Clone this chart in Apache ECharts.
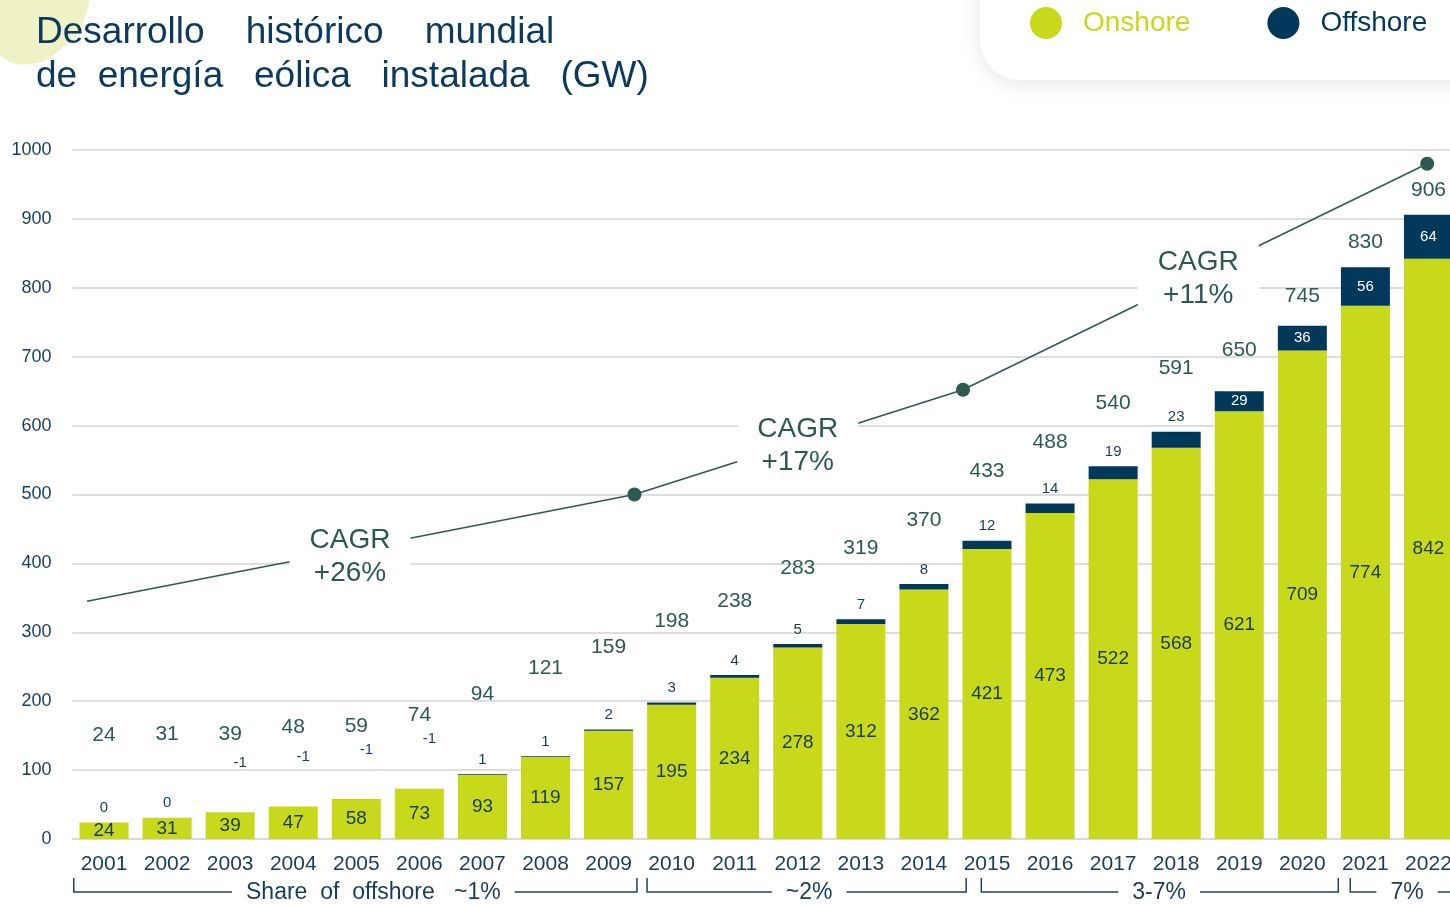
<!DOCTYPE html>
<html>
<head>
<meta charset="utf-8">
<script src="https://cdn.jsdelivr.net/npm/echarts@6/dist/echarts.min.js"></script>
<style>
  html, body { margin: 0; padding: 0; background: #fff; overflow: hidden; }
  /* el gráfico sigue un poco más allá del borde derecho, como en el original */
  #chart { width: 1460px; height: 905px; }
</style>
</head>
<body>
<div id="chart"></div>
<script>
// datos (GW)
const years = ['2001', '2002', '2003', '2004', '2005', '2006', '2007', '2008', '2009', '2010', '2011',
  '2012', '2013', '2014', '2015', '2016', '2017', '2018', '2019', '2020', '2021', '2022'];
const onshore = [24, 31, 39, 47, 58, 73, 93, 119, 157, 195, 234, 278, 312, 362, 421, 473, 522, 568, 621, 709, 774, 842];
const offshore = [0, 0, -1, -1, -1, -1, 1, 1, 2, 3, 4, 5, 7, 8, 12, 14, 19, 23, 29, 36, 56, 64];
const totals = [24, 31, 39, 48, 59, 74, 94, 121, 159, 198, 238, 283, 319, 370, 433, 488, 540, 591, 650, 745, 830, 906];

// líneas CAGR: puntos [índice de año, GW]
const cagrLine = [[-0.27, 345], [8.41, 500], [13.62, 652], [20.98, 980]];
const cagrText = ['CAGR\n+26%', 'CAGR\n+17%', 'CAGR\n+11%'];
const cagrTextAt = [[3.9, 409], [11.0, 570], [17.35, 813]];

// share of offshore
const shareText = ['Share  of  offshore   ~1%', '~2%', '3-7%', '7%'];
const shareFrom = [-0.48, 8.61, 13.91, 19.76];
const shareTo = [8.45, 13.67, 19.57, 21.55];
const shareTextAt = [4.27, 11.18, 16.73, 20.66];

// distancia de la etiqueta del total sobre la barra (px)
const totalLift = [76, 72, 67, 68, 61, 62, 69, 76, 71, 70, 63, 65, 60, 53, 58, 50, 53, 53, 30, 18, 14, 14];

const FONT = 'Liberation Sans, Arial, sans-serif';
const GREEN = '#c8d81a';
const NAVY = '#02385a';
const TEXT = '#173c5c';
const TEAL = '#2c5a53';

const chart = echarts.init(document.getElementById('chart'));

const offshoreData = offshore.map(function (v) {
  let label;
  if (v >= 25) {
    label = { position: 'inside', color: '#fff' };
  } else if (v < 0) {
    label = { position: 'top', distance: 42, offset: [10, 0] };
  } else {
    label = { position: 'top', distance: 7 };
  }
  return { value: Math.max(v, 0), label: label };
});

const cagrSeries = [];
for (let i = 0; i < 3; i++) {
  cagrSeries.push({
    type: 'line',
    xAxisIndex: 1,
    data: [cagrLine[i], cagrLine[i + 1]],
    symbol: 'none',
    lineStyle: { color: TEAL, width: 1.5 },
    silent: true,
    z: 3
  });
}

chart.setOption({
  animation: false,
  textStyle: { fontFamily: FONT },
  title: {
    text: 'Desarrollo    histórico    mundial\nde  energía   eólica   instalada   (GW)',
    left: 36,
    top: 11,
    padding: 0,
    textStyle: { fontSize: 37, lineHeight: 44, color: '#0b3a5e', fontWeight: 'normal', fontFamily: FONT }
  },
  legend: {
    left: 1030,
    top: 7,
    padding: 0,
    z: 20,
    icon: 'circle',
    itemWidth: 32,
    itemHeight: 32,
    itemGap: 77,
    textStyle: { fontSize: 28, fontFamily: FONT, padding: [12, 0, 0, 16] },
    data: [
      { name: 'Onshore', textStyle: { color: GREEN } },
      { name: 'Offshore', textStyle: { color: NAVY } }
    ]
  },
  grid: { left: 72.5, right: 0, top: 150, bottom: 66 },
  xAxis: [{
    type: 'category',
    data: years,
    axisTick: { show: false },
    axisLine: { lineStyle: { color: '#d9d9d9', width: 2 } },
    axisLabel: { fontSize: 21, color: TEXT, margin: 15, interval: 0 }
  }, {
    type: 'value',
    min: -0.5,
    max: 21.5,
    show: false
  }],
  yAxis: {
    type: 'value',
    min: 0,
    max: 1000,
    interval: 100,
    axisLine: { show: false },
    axisTick: { show: false },
    axisLabel: { fontSize: 18, color: TEXT, margin: 21, formatter: function (v) { return String(v); } },
    splitLine: { lineStyle: { color: '#dedede', width: 2 } }
  },
  series: [{
    name: 'Onshore',
    type: 'bar',
    stack: 'total',
    barWidth: 49,
    data: onshore,
    itemStyle: { color: GREEN },
    label: { show: true, position: 'inside', fontSize: 19, color: TEXT }
  }, {
    name: 'Offshore',
    type: 'bar',
    stack: 'total',
    barWidth: 49,
    data: offshoreData,
    itemStyle: { color: NAVY },
    label: {
      show: true,
      fontSize: 15,
      color: TEXT,
      formatter: function (p) { return String(offshore[p.dataIndex]); }
    }
  }, {
    name: 'Total',
    type: 'scatter',
    data: totals.map(function (t, i) {
      return { value: t, label: { distance: totalLift[i] } };
    }),
    symbolSize: 1,
    itemStyle: { color: 'rgba(0,0,0,0)', opacity: 1 },
    label: { show: true, position: 'top', fontSize: 21, color: TEAL },
    silent: true,
    z: 4
  }].concat(cagrSeries, [{
    name: 'CAGR points',
    type: 'scatter',
    xAxisIndex: 1,
    data: cagrLine.slice(1),
    symbolSize: 14,
    itemStyle: { color: TEAL, opacity: 1 },
    silent: true,
    z: 5
  }, {
    name: 'CAGR labels',
    type: 'scatter',
    xAxisIndex: 1,
    data: cagrTextAt.map(function (p, i) {
      return { value: p, label: { formatter: cagrText[i] } };
    }),
    symbolSize: 1,
    itemStyle: { color: 'rgba(0,0,0,0)', opacity: 1 },
    label: {
      show: true,
      position: 'inside',
      fontSize: 28,
      lineHeight: 33,
      color: TEAL,
      align: 'center',
      backgroundColor: '#fff',
      padding: [2, 20]
    },
    silent: true,
    z: 6
  }])
});

// decoración: mancha, caja de leyenda y corchetes de "share of offshore"
const px = function (v) { return chart.convertToPixel({ xAxisIndex: 1 }, v); };
const graphics = [{
  type: 'polygon',
  shape: {
    points: [[-10, -10], [82, -10], [84, 20], [62, 48], [30, 64], [0, 56], [-10, 40]],
    smooth: 0.5
  },
  style: { fill: '#eef2c5' },
  z: -10,
  silent: true
}, {
  type: 'rect',
  shape: { x: 980, y: -60, width: 520, height: 140, r: 40 },
  style: { fill: '#fff', shadowBlur: 22, shadowColor: 'rgba(0,0,0,0.10)', shadowOffsetY: 4 },
  z: -5,
  silent: true
}];
for (let i = 0; i < shareText.length; i++) {
  const x0 = px(shareFrom[i]);
  const x1 = px(shareTo[i]);
  graphics.push({
    type: 'polyline',
    shape: { points: [[x0, 878], [x0, 892], [x1, 892], [x1, 878]] },
    style: { stroke: '#1f4363', lineWidth: 1.5, fill: null },
    silent: true
  });
  graphics.push({
    type: 'text',
    x: px(shareTextAt[i]),
    y: 893,
    style: {
      text: shareText[i],
      fontSize: 23,
      fontFamily: FONT,
      fill: TEXT,
      align: 'center',
      verticalAlign: 'middle',
      backgroundColor: '#fff',
      padding: [0, 14]
    },
    z: 10,
    silent: true
  });
}
chart.setOption({ graphic: graphics });
</script>
</body>
</html>
